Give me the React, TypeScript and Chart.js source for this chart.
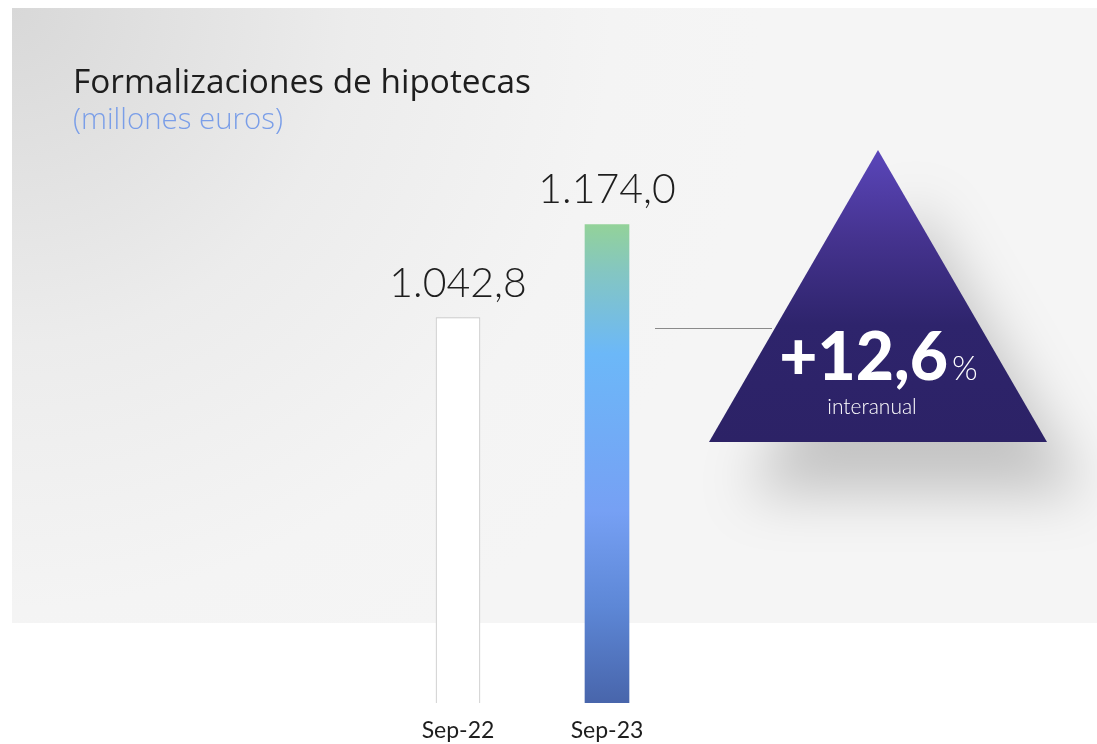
import React, { useEffect, useRef } from "react";
import { Chart, registerables } from "chart.js";

Chart.register(...registerables);

const categories = ["Sep-22", "Sep-23"];
const values = [1042.8, 1174.0];
const valueLabels = ["1.042,8", "1.174,0"];
const chartTitle = "Formalizaciones de hipotecas";
const chartSubtitle = "(millones euros)";
const changeLabel = "+12,6";
const changeUnit = "%";
const changeCaption = "interanual";

const FONT = "Lato, 'Noto Sans', sans-serif";
const TITLE_FONT = "'Open Sans', Lato, sans-serif";

function fitFont(ctx: CanvasRenderingContext2D, text: string, weight: string, family: string, base: number, target: number) {
  ctx.font = `${weight} ${base}px ${family}`;
  const w = ctx.measureText(text).width;
  const size = Math.max(base * 0.8, Math.min(base * 1.25, (base * target) / w));
  ctx.font = `${weight} ${size.toFixed(2)}px ${family}`;
}

const decorPlugin = {
  id: "decor",
  beforeDraw(chart: any) {
    const ctx: CanvasRenderingContext2D = chart.ctx;
    ctx.save();
    const g = ctx.createRadialGradient(12, 8, 0, 12, 8, 750);
    g.addColorStop(0, "#d8d8d8");
    g.addColorStop(0.45, "#ececec");
    g.addColorStop(0.8, "#f4f4f4");
    g.addColorStop(1, "#f5f5f5");
    ctx.fillStyle = g;
    ctx.fillRect(12, 8, 1085, 615);

    ctx.fillStyle = "#1e1e1e";
    ctx.textBaseline = "alphabetic";
    ctx.textAlign = "left";
    fitFont(ctx, chartTitle, "400", TITLE_FONT, 30, 458);
    ctx.fillText(chartTitle, 73, 93);
    ctx.fillStyle = "#7a9ee8";
    fitFont(ctx, chartSubtitle, "300", TITLE_FONT, 25, 210);
    ctx.fillText(chartSubtitle, 73, 129);
    ctx.restore();
  },
  afterDatasetsDraw(chart: any) {
    const ctx: CanvasRenderingContext2D = chart.ctx;
    const meta = chart.getDatasetMeta(0);
    ctx.save();
    ctx.fillStyle = "#1e1e1e";
    ctx.font = `300 41px ${FONT}`;
    ctx.textAlign = "center";
    ctx.textBaseline = "alphabetic";
    meta.data.forEach((el: any, i: number) => {
      ctx.fillText(valueLabels[i], el.x, el.y - 21);
    });

    // connector line
    ctx.strokeStyle = "#8a8a8a";
    ctx.lineWidth = 1;
    ctx.beginPath();
    ctx.moveTo(655, 328.5);
    ctx.lineTo(772, 328.5);
    ctx.stroke();

    // triangle with shadow
    const ax = 878, ay = 150, bl = 709, br = 1047, by = 442;
    ctx.save();
    ctx.shadowColor = "rgba(0,0,0,0.2)";
    ctx.shadowBlur = 55;
    ctx.shadowOffsetX = 38;
    ctx.shadowOffsetY = 52;
    const tg = ctx.createLinearGradient(0, ay, 0, by);
    tg.addColorStop(0, "#5a46ba");
    tg.addColorStop(0.3, "#45338f");
    tg.addColorStop(0.6, "#2e246c");
    tg.addColorStop(1, "#2c2266");
    ctx.fillStyle = tg;
    ctx.beginPath();
    ctx.moveTo(ax, ay);
    ctx.lineTo(br, by);
    ctx.lineTo(bl, by);
    ctx.closePath();
    ctx.fill();
    ctx.restore();

    // change text
    ctx.fillStyle = "#ffffff";
    ctx.textAlign = "left";
    ctx.font = `900 66px ${FONT}`;
    const w1 = ctx.measureText(changeLabel).width;
    ctx.font = `300 33px ${FONT}`;
    const w2 = ctx.measureText(changeUnit).width;
    const startX = 878.5 - (w1 + 4 + w2) / 2;
    ctx.font = `900 66px ${FONT}`;
    ctx.fillText(changeLabel, startX, 380);
    ctx.font = `300 33px ${FONT}`;
    ctx.fillText(changeUnit, startX + w1 + 4, 380);
    ctx.textAlign = "center";
    ctx.font = `300 21px ${FONT}`;
    ctx.fillText(changeCaption, 872, 414);
    ctx.restore();
  },
};

export default function App() {
  const ref = useRef<HTMLCanvasElement | null>(null);
  useEffect(() => {
    if (!ref.current) return;
    const chart = new Chart(ref.current, {
      type: "bar",
      data: {
        labels: categories,
        datasets: [
          {
            data: values,
            barThickness: 44,
            borderSkipped: false,
            borderWidth: (c: any) => (c.dataIndex === 0 ? 1 : 0),
            borderColor: "#c4c4c4",
            backgroundColor: (c: any) => {
              if (c.dataIndex === 0) return "#ffffff";
              const chartArea = c.chart.chartArea;
              const ys = c.chart.scales ? c.chart.scales.y : null;
              if (!chartArea || !ys) return "#6cb8f8";
              const top = ys.getPixelForValue(values[c.dataIndex]);
              const bottom = chartArea.bottom;
              if (!isFinite(top) || !isFinite(bottom) || bottom <= top) return "#6cb8f8";
              const g = c.chart.ctx.createLinearGradient(0, top, 0, bottom);
              g.addColorStop(0, "#93d299");
              g.addColorStop(0.1, "#84c6c2");
              g.addColorStop(0.27, "#6cb8f8");
              g.addColorStop(0.6, "#76a0f4");
              g.addColorStop(0.8, "#5d87d6");
              g.addColorStop(1, "#4865ab");
              return g;
            },
          } as any,
        ],
      },
      options: {
        responsive: false,
        animation: false,
        events: [],
        layout: { padding: { left: 383.5, right: 415.5, top: 99.5, bottom: 0 } },
        plugins: { legend: { display: false }, tooltip: { enabled: false }, title: { display: false } },
        scales: {
          x: {
            grid: { display: false, drawTicks: false },
            border: { display: false },
            ticks: { color: "#1e1e1e", font: { family: FONT, size: 23, weight: "400" }, padding: 14 },
            afterFit: (scale: any) => {
              scale.height = 41;
            },
          },
          y: {
            display: false,
            min: 500,
            max: 1350,
          },
        },
      },
      plugins: [decorPlugin],
    });
    return () => chart.destroy();
  }, []);
  return (
    <div style={{ position: "fixed", left: 0, top: 0, width: 1097, height: 744, background: "#fff" }}>
      <canvas ref={ref} width={1097} height={744} style={{ display: "block" }} />
    </div>
  );
}
